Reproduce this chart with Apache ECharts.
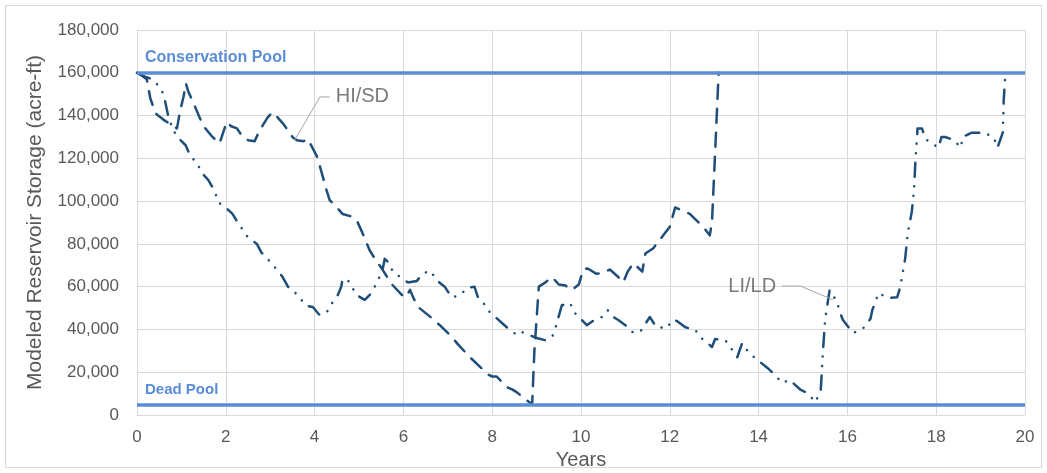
<!DOCTYPE html>
<html>
<head>
<meta charset="utf-8">
<title>Modeled Reservoir Storage</title>
<script src="https://cdn.jsdelivr.net/npm/echarts@6/dist/echarts.min.js"></script>
<style>
  html, body { margin: 0; padding: 0; background: #ffffff; }
  #chart { width: 1047px; height: 473px; }
</style>
</head>
<body>
<div id="chart"></div>
<script>
// HI/SD scenario: storage by simulated year
const hiYears = [0, 0.12, 0.22, 0.3, 0.42, 0.6, 0.75, 0.9, 0.97, 1.05, 1.1, 1.16, 1.27, 1.39, 1.5, 1.7, 1.86,
  2.02, 2.12, 2.25, 2.38, 2.5, 2.65, 2.76, 2.94, 3.05, 3.15, 3.28, 3.37, 3.5, 3.6, 3.75, 3.85,
  4.05, 4.11, 4.27, 4.34, 4.5, 4.63, 4.8, 4.95, 5.07, 5.24, 5.36, 5.53, 5.62, 5.7, 5.97, 6.05,
  6.15, 6.22, 6.33, 6.6, 6.7, 6.82, 7.09, 7.23, 7.5, 7.65, 7.9, 8.0, 8.1, 8.33, 8.45, 8.55,
  8.8, 8.9, 8.95, 9.05, 9.2, 9.35, 9.5, 9.65, 9.8, 9.95, 10.05, 10.15, 10.35, 10.5, 10.65,
  10.84, 10.95, 11.05, 11.18, 11.38, 11.45, 11.63, 11.74, 12.0, 12.12, 12.3, 12.45, 12.6,
  12.75, 12.9, 12.95, 13.1];
const hiStorage = [160000, 158500, 157000, 148000, 141000, 138000, 136000, 134000, 142000, 149000, 155000, 151000, 146000, 140000, 135000, 130000, 127000,
  137000, 135000, 134000, 130000, 128500, 128000, 133000, 139000, 141500, 139500, 136500, 134000, 130000, 128500, 128000, 129000,
  121000, 117000, 105000, 100500, 97000, 94000, 93000, 91000, 85500, 77000, 73000, 68000, 65000, 62000, 56000, 55000,
  58500, 55000, 50500, 46000, 44000, 42000, 36500, 33000, 27000, 24000, 19000, 18000, 18000, 13000, 12000, 10700,
  6500, 5000, 30000, 60000, 62000, 64500, 61000, 60500, 58500, 61000, 68000, 68500, 66000, 66500, 68000,
  64500, 62000, 67000, 71000, 67000, 75500, 78000, 81000, 88000, 97000, 95500, 94000, 91000,
  88000, 84000, 90000, 160000];

// LI/LD scenario: storage by simulated year
const liYears = [0, 0.2, 0.35, 0.48, 0.6, 0.64, 0.71, 0.82, 0.93, 1.1, 1.2, 1.35, 1.45, 1.6, 1.7, 1.86,
  2.0, 2.15, 2.27, 2.5, 2.7, 2.8, 2.9, 3.15, 3.28, 3.4, 3.55, 3.82, 3.96, 4.1, 4.27, 4.34, 4.5,
  4.6, 4.63, 4.75, 4.95, 5.13, 5.28, 5.4, 5.53, 5.58, 5.68, 5.76, 6.1, 6.3, 6.43, 6.6, 6.78,
  6.93, 7.09, 7.27, 7.45, 7.6, 7.68, 7.84, 7.9, 8.22, 8.4, 8.56, 8.67, 9.0, 9.19, 9.35, 9.41,
  9.57, 9.64, 9.75, 9.86, 10.13, 10.3, 10.47, 10.6, 10.73, 10.84, 11.0, 11.15, 11.33, 11.55,
  11.7, 11.94, 12.05, 12.16, 12.35, 12.57, 12.68, 12.95, 13.02, 13.25, 13.36, 13.52, 13.63,
  13.75, 13.9, 14.2, 14.37, 14.53, 14.7, 14.95, 15.1, 15.28, 15.4, 15.45, 15.5, 15.6, 15.77,
  15.83, 15.9, 16.13, 16.36, 16.52, 16.56, 16.7, 16.92, 17.12, 17.19, 17.3, 17.36, 17.45,
  17.5, 17.53, 17.58, 17.68, 17.76, 17.83, 18.05, 18.12, 18.2, 18.4, 18.55, 18.6, 18.7, 18.8,
  19.1, 19.3, 19.38, 19.5, 19.52, 19.55];
const liStorage = [160000, 158000, 157000, 154000, 150000, 146000, 139000, 133000, 129500, 126000, 121000, 118000, 113500, 110000, 106500, 99000,
  97000, 94000, 90000, 83000, 80000, 76000, 74000, 68000, 64500, 60000, 57500, 51000, 50500, 47000, 47700, 51000, 55000,
  60000, 63600, 63000, 56000, 53800, 57000, 61700, 67800, 73000, 71000, 67000, 62000, 62600, 66000, 67500, 62500,
  60000, 55000, 56000, 59500, 60000, 55000, 51400, 49000, 43000, 39700, 37400, 38800, 36000, 35000, 36500, 39700,
  51400, 51400, 52400, 47700, 42000, 44400, 45800, 49000, 45800, 44400, 42000, 38800, 38800, 45800,
  41000, 40700, 44400, 44000, 41000, 40000, 36500, 31800, 35500, 35000, 31800, 27000, 33600,
  30000, 27000, 22000, 18700, 15000, 16400, 11700, 10300, 6000, 11700, 30000, 45000, 58400, 52800,
  48000, 44400, 38300, 40700, 45000, 49000, 57000, 54700, 55000, 59800, 73000, 85000, 95000,
  105000, 118000, 134000, 134000, 129000, 128000, 125000, 130000, 130000, 128600, 125000, 130000, 131000, 132000,
  132000, 129500, 125000, 132000, 147000, 157000];

// Reference storage levels
const poolNames = ['Conservation Pool', 'Dead Pool'];
const poolLevels = [160000, 5000];

// Axis ranges and ticks
const yearTicks = { min: 0, max: 20, step: 2 };
const storageTicks = { min: 0, max: 180000, step: 20000 };

// Callout anchors: [mark point, elbow, text anchor]
const hiCallout = [[3.55, 128500], [4.12, 148700], [4.34, 148700]];
const liCallout = [[15.68, 53800], [14.94, 60300], [14.53, 60300]];
const seriesNames = ['HI/SD', 'LI/LD'];

const pairs = (xs, ys) => xs.map((x, i) => [x, ys[i]]);

const lineColor = '#1F4E79';
const poolColor = '#5B8DD6';
const textColor = '#595959';
const gridColor = '#D9D9D9';
const font = 'Liberation Sans, Arial, sans-serif';

const chart = echarts.init(document.getElementById('chart'), null, { renderer: 'canvas' });

chart.setOption({
  animation: false,
  backgroundColor: '#ffffff',
  grid: { left: 137, right: 22, top: 30, bottom: 58, containLabel: false, outerBoundsMode: 'none' },
  graphic: [{
    type: 'rect',
    shape: { x: 5.5, y: 5.5, width: 1036, height: 462 },
    style: { fill: 'none', stroke: gridColor, lineWidth: 1 },
    silent: true
  }],
  xAxis: {
    type: 'value',
    min: yearTicks.min, max: yearTicks.max, interval: yearTicks.step,
    name: 'Years', nameLocation: 'middle', nameGap: 33,
    nameTextStyle: { color: textColor, fontSize: 20, fontFamily: font },
    axisLine: { show: true, lineStyle: { color: gridColor, width: 1 } },
    axisTick: { show: false },
    axisLabel: { color: textColor, fontSize: 17, margin: 14, fontFamily: font },
    splitLine: { show: true, lineStyle: { color: gridColor, width: 1 } }
  },
  yAxis: {
    type: 'value',
    min: storageTicks.min, max: storageTicks.max, interval: storageTicks.step,
    name: 'Modeled Reservoir Storage (acre-ft)', nameLocation: 'middle', nameGap: 91, nameRotate: 90,
    nameTextStyle: { color: textColor, fontSize: 21, fontFamily: font },
    axisLine: { show: true, lineStyle: { color: gridColor, width: 1 } },
    axisTick: { show: false },
    axisLabel: {
      color: textColor, fontSize: 17, margin: 18, fontFamily: font,
      formatter: v => v.toLocaleString('en-US')
    },
    splitLine: { show: true, lineStyle: { color: gridColor, width: 1 } }
  },
  series: [
    {
      name: 'pools',
      type: 'line',
      data: [],
      silent: true,
      markLine: {
        silent: true,
        symbol: 'none',
        animation: false,
        lineStyle: { color: poolColor, width: 3.5, type: 'solid' },
        label: {
          show: true,
          position: 'insideStartTop',
          distance: [8, 7],
          color: poolColor,
          fontSize: 15,
          fontWeight: 'bold',
          fontFamily: font,
          formatter: p => p.name
        },
        emphasis: { disabled: true },
        data: poolNames.map((n, i) => ({
          name: n,
          yAxis: poolLevels[i],
          label: i === 0 ? { fontSize: 16 } : {}
        }))
      }
    },
    {
      name: seriesNames[0],
      type: 'line',
      data: pairs(hiYears, hiStorage),
      showSymbol: false,
      smooth: false,
      z: 3,
      lineStyle: { color: lineColor, width: 2.5, type: [14, 10], cap: 'round', join: 'round' }
    },
    {
      name: seriesNames[1],
      type: 'line',
      data: pairs(liYears, liStorage),
      showSymbol: false,
      smooth: false,
      z: 3,
      lineStyle: { color: lineColor, width: 2.5, type: [14, 9.5, 0.1, 9.5, 0.1, 9.5], cap: 'round', join: 'round' }
    },
    {
      name: 'hiLeader',
      type: 'line',
      data: hiCallout,
      showSymbol: false,
      silent: true,
      z: 4,
      lineStyle: { color: '#A6A6A6', width: 1, type: 'solid' }
    },
    {
      name: 'liLeader',
      type: 'line',
      data: liCallout,
      showSymbol: false,
      silent: true,
      z: 4,
      lineStyle: { color: '#A6A6A6', width: 1, type: 'solid' }
    },
    {
      name: 'calloutText',
      type: 'scatter',
      symbolSize: 0,
      silent: true,
      z: 5,
      data: [
        { value: hiCallout[2], label: { position: 'right', formatter: seriesNames[0] } },
        { value: liCallout[2], label: { position: 'left', formatter: seriesNames[1] } }
      ],
      label: {
        show: true,
        distance: 6,
        color: textColor,
        fontSize: 20,
        fontFamily: font
      }
    }
  ]
});
</script>
</body>
</html>
